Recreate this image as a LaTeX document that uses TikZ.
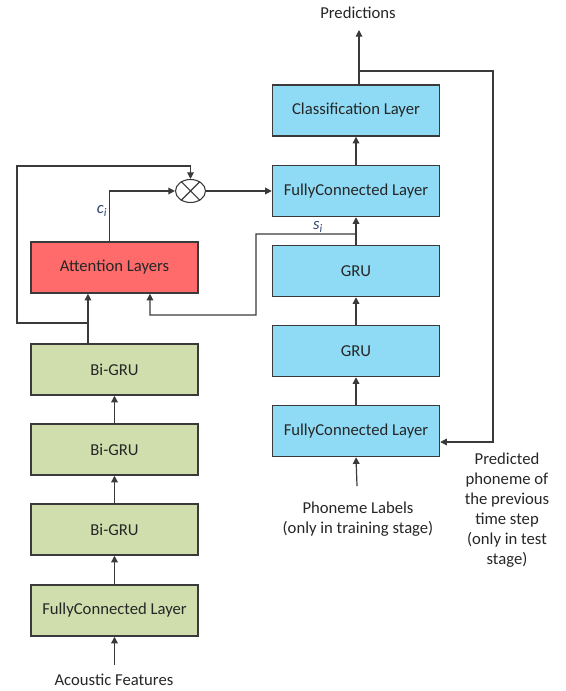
\documentclass[tikz,border=0pt]{standalone}
\usepackage{fontspec}
\setmainfont{Carlito}
\usetikzlibrary{arrows.meta,shapes.geometric}
\definecolor{fcblue}{HTML}{8FDBF5}
\definecolor{grugreen}{HTML}{D0DEAE}
\definecolor{attred}{HTML}{FF6B6B}
\definecolor{edgegray}{HTML}{3A3A3A}
\definecolor{txtgray}{HTML}{262626}
\definecolor{symblue}{HTML}{2E4470}
\tikzset{
  layer/.style={draw=edgegray,line width=1.1pt,minimum width=125.25pt,minimum height=38.25pt,
    inner sep=0pt,text=txtgray,font=\fontsize{12.5}{15}\selectfont},
  bluelayer/.style={layer,fill=fcblue},
  greenlayer/.style={layer,fill=grugreen},
  redlayer/.style={layer,fill=attred},
  lbl/.style={text=txtgray,align=center,font=\fontsize{12.5}{15}\selectfont},
  symlbl/.style={text=symblue,inner sep=1pt,font=\fontsize{12.5}{14}\selectfont\itshape},
  arr/.style={draw=edgegray,line width=0.9pt,-{Triangle[length=5pt,width=5pt]}}
}
\begin{document}
\begin{tikzpicture}[x=0.75pt,y=-0.75pt]
\useasboundingbox (0,0) rectangle (565,691);
\node[bluelayer] (clf) at (356,110.5) {Classification Layer};
\node[bluelayer] (fctop) at (356,191) {FullyConnected Layer};
\node[bluelayer] (grutop) at (356,271) {GRU};
\node[bluelayer] (grubot) at (356,351) {GRU};
\node[bluelayer] (fcbot) at (356,431) {FullyConnected Layer};
\node[redlayer] (att) at (114.5,267.5) {Attention Layers};
\node[greenlayer] (bigrutop) at (114.5,369.5) {Bi-GRU};
\node[greenlayer] (bigrumid) at (114.5,449.5) {Bi-GRU};
\node[greenlayer] (bigrubot) at (114.5,529.5) {Bi-GRU};
\node[greenlayer] (fcin) at (114.5,610.5) {FullyConnected Layer};
\node[draw=edgegray,line width=0.8pt,ellipse,minimum width=22.5pt,minimum height=17.25pt,inner sep=0pt] (mul) at (190.5,191) {};
\draw[edgegray,line width=0.8pt] (mul.45) -- (mul.225) (mul.135) -- (mul.315);
\node[lbl] (pred) at (358,13) {Predictions};
\node[lbl] (phon) at (358,519) {Phoneme Labels\\(only in training stage)};
\node[lbl] (prevph) at (507,510) {Predicted\\phoneme of\\the previous\\time step\\(only in test\\stage)};
\node[lbl] (acou) at (114,680) {Acoustic Features};
\coordinate (inacou) at (114.5,665);
\coordinate (inphon) at (357,486);
\coordinate (outpred) at (359,30);
\coordinate (fbsplit) at (359,71);
\coordinate (bisplit) at (88,323);
\coordinate (sfork) at (356,234);
\draw[arr] (inacou) -- (fcin.south);
\draw[arr] (fcin.north) -- (bigrubot.south);
\draw[arr] (bigrubot.north) -- (bigrumid.south);
\draw[arr] (bigrumid.north) -- (bigrutop.south);
\draw[arr] ([xshift=-19.9pt]bigrutop.north) -- ([xshift=-19.9pt]att.south);
\draw[arr] (bisplit) -- (17,323) -- (17,166) -| (mul.north);
\draw[arr] ([xshift=-4pt]att.north) |- node[pos=0.3,left,symlbl] {c\textsubscript{i}} (mul.west);
\draw[arr] (mul.east) -- (fctop.west);
\draw[arr] (inphon) -- (fcbot.south);
\draw[arr] (fcbot.north) -- (grubot.south);
\draw[arr] (grubot.north) -- (grutop.south);
\draw[arr] (grutop.north) -- (fctop.south);
\draw[arr] (sfork) -- node[pos=0.38,above,symlbl] {s\textsubscript{i}} (256,234) |- (150,315) -- ([xshift=26.6pt]att.south);
\draw[arr] (fctop.north) -- (clf.south);
\draw[arr] ([xshift=2.25pt]clf.north) -- (outpred);
\draw[arr] (fbsplit) -- (493,71) |- ([yshift=-8.25pt]fcbot.east);
\end{tikzpicture}
\end{document}
